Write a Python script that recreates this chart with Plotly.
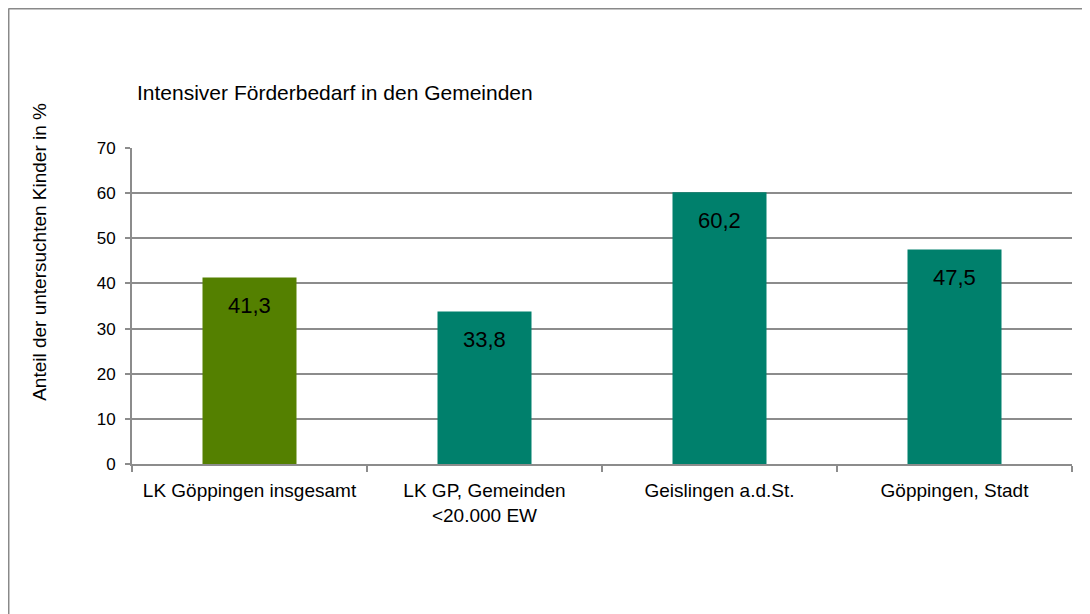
import plotly.graph_objects as go

categories = [
    "LK Göppingen insgesamt",
    "LK GP, Gemeinden<br>&lt;20.000 EW",
    "Geislingen a.d.St.",
    "Göppingen, Stadt",
]
values = [41.3, 33.8, 60.2, 47.5]
value_labels = ["41,3", "33,8", "60,2", "47,5"]
bar_colors = ["#548000", "#00806C", "#00806C", "#00806C"]
y_ticks = [0, 10, 20, 30, 40, 50, 60, 70]

FONT = "Liberation Sans, Arial, sans-serif"
GRID = "#8c8c8c"

fig = go.Figure(
    go.Bar(x=categories, y=values, marker=dict(color=bar_colors, line=dict(width=0)))
)

# value labels sit inside each bar near the top
for cat, val, lab in zip(categories, values, value_labels):
    fig.add_annotation(x=cat, y=val, text=lab, showarrow=False, yshift=-28,
                       font=dict(family=FONT, size=22, color="#000000"))

fig.add_annotation(xref="paper", yref="paper", x=0.003, y=1.177, text="Intensiver Förderbedarf in den Gemeinden",
                   showarrow=False, xanchor="left", yanchor="middle",
                   font=dict(family=FONT, size=21, color="#000000"))
fig.add_annotation(xref="paper", yref="paper", x=-0.098, y=0.671, text="Anteil der untersuchten Kinder in %",
                   showarrow=False, textangle=-90, xanchor="center", yanchor="middle",
                   font=dict(family=FONT, size=19, color="#000000"))

# outer frame (top and left edges visible)
fig.add_shape(type="line", xref="paper", yref="paper", x0=-0.1314, x1=-0.1314, y0=-0.5, y1=1.4415,
              line=dict(color="#898989", width=2))
fig.add_shape(type="line", xref="paper", yref="paper", x0=-0.1314, x1=1.05, y0=1.4415, y1=1.4415,
              line=dict(color="#898989", width=2))

# page body has an 8px margin, so the figure is 8px smaller to fit the window
fig.update_layout(
    width=1082, height=606,
    margin=dict(l=124, r=18, t=140, b=150),
    paper_bgcolor="white", plot_bgcolor="white",
    bargap=0.6, showlegend=False,
    font=dict(family=FONT, color="#000000"),
)
fig.update_xaxes(
    showline=True, linecolor=GRID, linewidth=2, ticks="outside", tickson="boundaries",
    ticklen=6, tickcolor=GRID, tickwidth=2, tickfont=dict(family=FONT, size=19),
    showgrid=False, ticklabelstandoff=8,
)
fig.update_yaxes(
    range=[0, 70], tickvals=y_ticks, showline=True, linecolor=GRID, linewidth=2,
    ticks="outside", ticklen=5, tickcolor=GRID, tickwidth=2,
    showgrid=True, gridcolor=GRID, gridwidth=2, zeroline=False,
    tickfont=dict(family=FONT, size=17), ticklabelstandoff=6,
)

fig.write_html("out.html")
